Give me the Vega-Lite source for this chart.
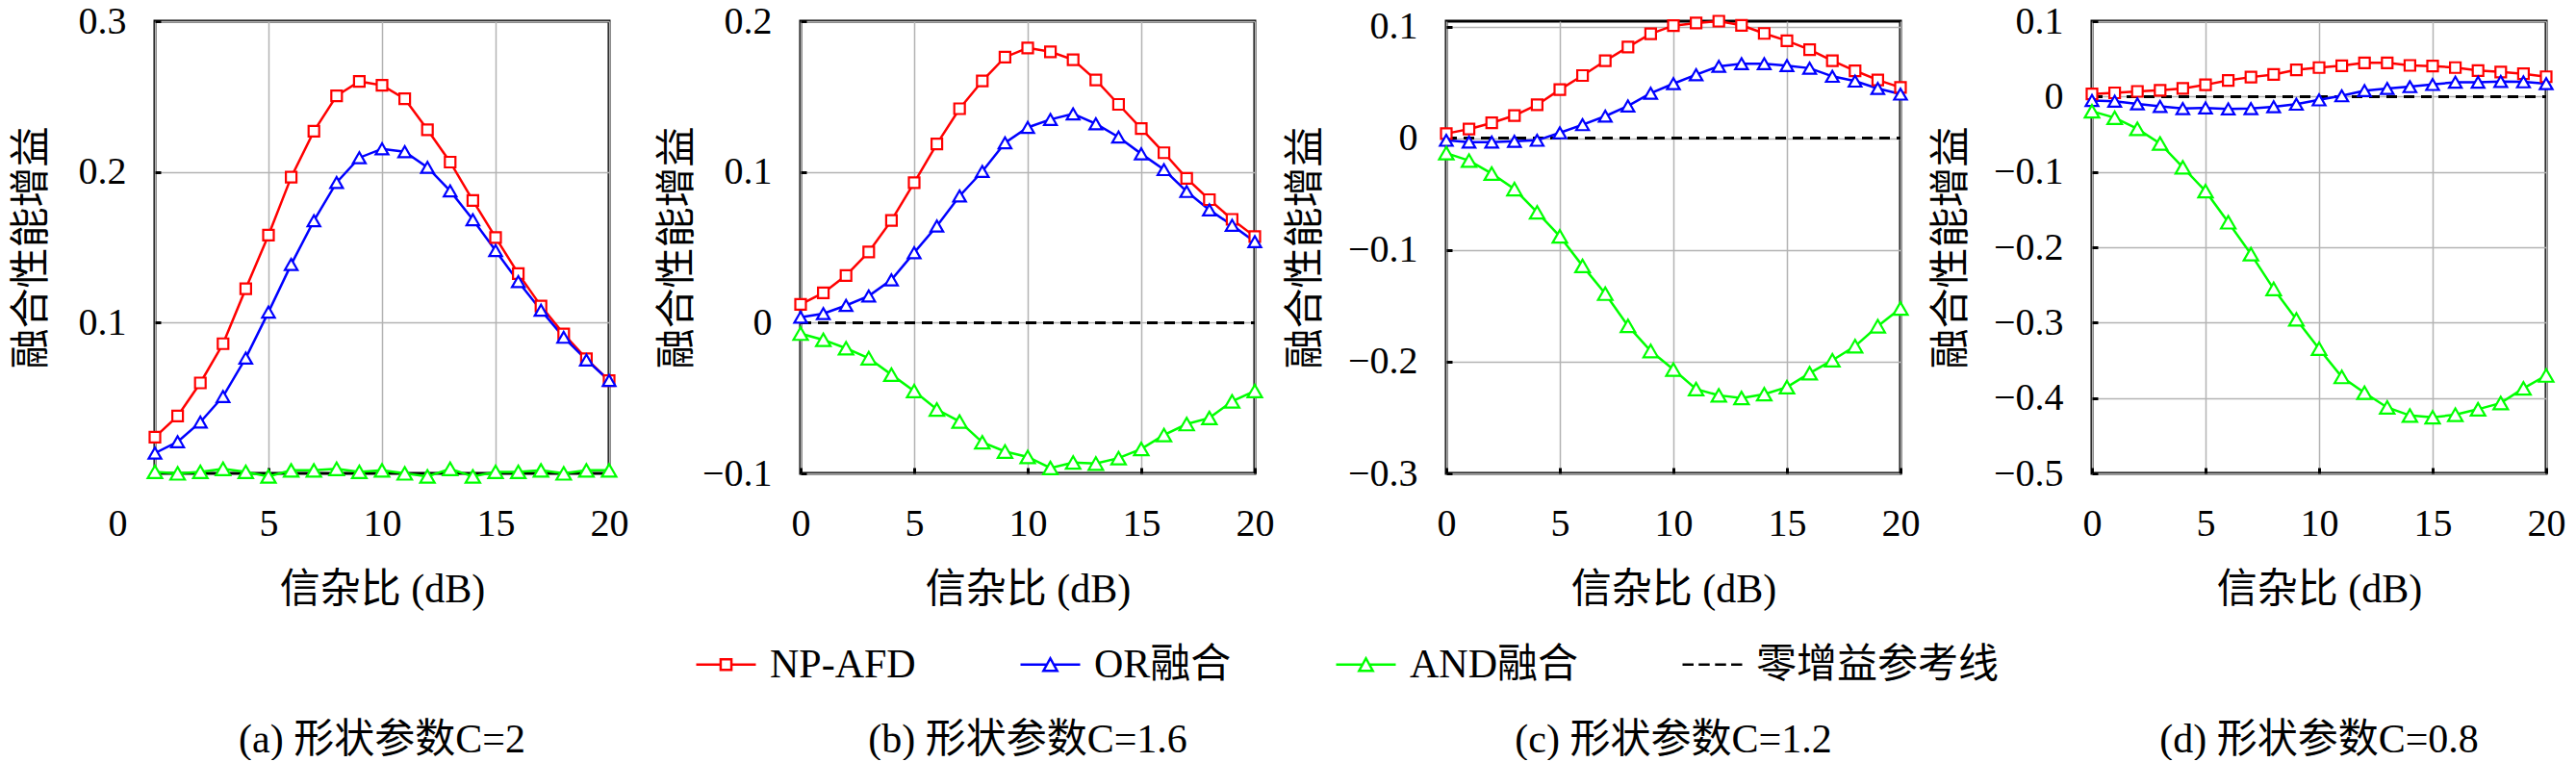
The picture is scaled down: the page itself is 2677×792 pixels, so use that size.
{
  "$schema": "https://vega.github.io/schema/vega-lite/v6.json",
  "description": "Fusion performance gain vs SNR for four shape parameters",
  "padding": {"top": 0, "left": 9, "right": 0, "bottom": 0},
  "datasets": {
    "gain": [
      {"p": "a", "x": 0, "NP-AFD": 0.024, "OR融合": 0.0134, "AND融合": 0.001},
      {"p": "a", "x": 1, "NP-AFD": 0.038, "OR融合": 0.021, "AND融合": 0.000},
      {"p": "a", "x": 2, "NP-AFD": 0.060, "OR融合": 0.034, "AND融合": 0.001},
      {"p": "a", "x": 3, "NP-AFD": 0.086, "OR融合": 0.051, "AND融合": 0.003},
      {"p": "a", "x": 4, "NP-AFD": 0.1225, "OR融合": 0.0765, "AND融合": 0.001},
      {"p": "a", "x": 5, "NP-AFD": 0.158, "OR融合": 0.107, "AND融合": -0.002},
      {"p": "a", "x": 6, "NP-AFD": 0.1965, "OR融合": 0.1386, "AND融合": 0.002},
      {"p": "a", "x": 7, "NP-AFD": 0.227, "OR融合": 0.1676, "AND融合": 0.002},
      {"p": "a", "x": 8, "NP-AFD": 0.2505, "OR融合": 0.193, "AND融合": 0.003},
      {"p": "a", "x": 9, "NP-AFD": 0.260, "OR融合": 0.2094, "AND融合": 0.001},
      {"p": "a", "x": 10, "NP-AFD": 0.2575, "OR融合": 0.2153, "AND融合": 0.002},
      {"p": "a", "x": 11, "NP-AFD": 0.2485, "OR融合": 0.2134, "AND融合": 0.000},
      {"p": "a", "x": 12, "NP-AFD": 0.228, "OR融合": 0.203, "AND融合": -0.002},
      {"p": "a", "x": 13, "NP-AFD": 0.2065, "OR融合": 0.1874, "AND融合": 0.003},
      {"p": "a", "x": 14, "NP-AFD": 0.181, "OR融合": 0.1683, "AND融合": -0.002},
      {"p": "a", "x": 15, "NP-AFD": 0.1565, "OR融合": 0.1478, "AND融合": 0.001},
      {"p": "a", "x": 16, "NP-AFD": 0.1325, "OR融合": 0.1272, "AND融合": 0.001},
      {"p": "a", "x": 17, "NP-AFD": 0.111, "OR融合": 0.1082, "AND融合": 0.002},
      {"p": "a", "x": 18, "NP-AFD": 0.0925, "OR融合": 0.0903, "AND融合": 0.000},
      {"p": "a", "x": 19, "NP-AFD": 0.076, "OR融合": 0.0752, "AND融合": 0.002},
      {"p": "a", "x": 20, "NP-AFD": 0.0615, "OR融合": 0.0616, "AND融合": 0.002},

      {"p": "b", "x": 0, "NP-AFD": 0.0121, "OR融合": 0.0036, "AND融合": -0.0073},
      {"p": "b", "x": 1, "NP-AFD": 0.0197, "OR融合": 0.006, "AND融合": -0.0114},
      {"p": "b", "x": 2, "NP-AFD": 0.0313, "OR融合": 0.0114, "AND融合": -0.017},
      {"p": "b", "x": 3, "NP-AFD": 0.0469, "OR融合": 0.0177, "AND融合": -0.0236},
      {"p": "b", "x": 4, "NP-AFD": 0.0678, "OR融合": 0.0284, "AND融合": -0.0345},
      {"p": "b", "x": 5, "NP-AFD": 0.0928, "OR融合": 0.0464, "AND融合": -0.0454},
      {"p": "b", "x": 6, "NP-AFD": 0.1185, "OR融合": 0.0641, "AND融合": -0.0576},
      {"p": "b", "x": 7, "NP-AFD": 0.1419, "OR融合": 0.084, "AND融合": -0.0656},
      {"p": "b", "x": 8, "NP-AFD": 0.1603, "OR融合": 0.1003, "AND融合": -0.0794},
      {"p": "b", "x": 9, "NP-AFD": 0.1761, "OR融合": 0.1193, "AND融合": -0.0855},
      {"p": "b", "x": 10, "NP-AFD": 0.1822, "OR融合": 0.1295, "AND融合": -0.0891},
      {"p": "b", "x": 11, "NP-AFD": 0.1797, "OR融合": 0.1348, "AND融合": -0.0964},
      {"p": "b", "x": 12, "NP-AFD": 0.1744, "OR融合": 0.1385, "AND融合": -0.0928},
      {"p": "b", "x": 13, "NP-AFD": 0.161, "OR融合": 0.1319, "AND融合": -0.0935},
      {"p": "b", "x": 14, "NP-AFD": 0.1448, "OR融合": 0.1231, "AND融合": -0.0899},
      {"p": "b", "x": 15, "NP-AFD": 0.1287, "OR融合": 0.112, "AND融合": -0.0838},
      {"p": "b", "x": 16, "NP-AFD": 0.1127, "OR融合": 0.1015, "AND融合": -0.0746},
      {"p": "b", "x": 17, "NP-AFD": 0.0957, "OR融合": 0.087, "AND融合": -0.0673},
      {"p": "b", "x": 18, "NP-AFD": 0.0816, "OR融合": 0.0748, "AND融合": -0.0632},
      {"p": "b", "x": 19, "NP-AFD": 0.0685, "OR融合": 0.0646, "AND融合": -0.0522},
      {"p": "b", "x": 20, "NP-AFD": 0.0571, "OR融合": 0.0537, "AND融合": -0.0454},

      {"p": "c", "x": 0, "NP-AFD": 0.0043, "OR融合": -0.0017, "AND融合": -0.0132},
      {"p": "c", "x": 1, "NP-AFD": 0.0083, "OR融合": -0.0033, "AND融合": -0.0199},
      {"p": "c", "x": 2, "NP-AFD": 0.0139, "OR融合": -0.0033, "AND融合": -0.0315},
      {"p": "c", "x": 3, "NP-AFD": 0.0205, "OR融合": -0.0026, "AND融合": -0.0454},
      {"p": "c", "x": 4, "NP-AFD": 0.0301, "OR融合": -0.0017, "AND融合": -0.0662},
      {"p": "c", "x": 5, "NP-AFD": 0.0437, "OR融合": 0.005, "AND融合": -0.0877},
      {"p": "c", "x": 6, "NP-AFD": 0.0563, "OR融合": 0.0123, "AND融合": -0.1142},
      {"p": "c", "x": 7, "NP-AFD": 0.0695, "OR融合": 0.0199, "AND融合": -0.1391},
      {"p": "c", "x": 8, "NP-AFD": 0.0818, "OR融合": 0.0291, "AND融合": -0.1679},
      {"p": "c", "x": 9, "NP-AFD": 0.0937, "OR融合": 0.0404, "AND融合": -0.1904},
      {"p": "c", "x": 10, "NP-AFD": 0.101, "OR融合": 0.049, "AND融合": -0.207},
      {"p": "c", "x": 11, "NP-AFD": 0.1033, "OR融合": 0.057, "AND融合": -0.2245},
      {"p": "c", "x": 12, "NP-AFD": 0.105, "OR融合": 0.0646, "AND融合": -0.2301},
      {"p": "c", "x": 13, "NP-AFD": 0.1013, "OR融合": 0.0669, "AND融合": -0.2325},
      {"p": "c", "x": 14, "NP-AFD": 0.094, "OR融合": 0.0669, "AND融合": -0.2291},
      {"p": "c", "x": 15, "NP-AFD": 0.0874, "OR融合": 0.0652, "AND融合": -0.2228},
      {"p": "c", "x": 16, "NP-AFD": 0.0795, "OR融合": 0.0629, "AND融合": -0.2103},
      {"p": "c", "x": 17, "NP-AFD": 0.0695, "OR融合": 0.0556, "AND融合": -0.1987},
      {"p": "c", "x": 18, "NP-AFD": 0.0606, "OR融合": 0.0513, "AND融合": -0.1861},
      {"p": "c", "x": 19, "NP-AFD": 0.0523, "OR融合": 0.0447, "AND融合": -0.1682},
      {"p": "c", "x": 20, "NP-AFD": 0.0457, "OR融合": 0.0397, "AND融合": -0.1523},

      {"p": "d", "x": 0, "NP-AFD": 0.0034, "OR融合": -0.0053, "AND融合": -0.0195},
      {"p": "d", "x": 1, "NP-AFD": 0.0049, "OR融合": -0.0063, "AND融合": -0.0282},
      {"p": "d", "x": 2, "NP-AFD": 0.0068, "OR融合": -0.0097, "AND融合": -0.0428},
      {"p": "d", "x": 3, "NP-AFD": 0.0083, "OR融合": -0.0131, "AND融合": -0.0623},
      {"p": "d", "x": 4, "NP-AFD": 0.0107, "OR融合": -0.016, "AND融合": -0.0939},
      {"p": "d", "x": 5, "NP-AFD": 0.0156, "OR融合": -0.0151, "AND融合": -0.1255},
      {"p": "d", "x": 6, "NP-AFD": 0.0214, "OR融合": -0.0165, "AND融合": -0.1668},
      {"p": "d", "x": 7, "NP-AFD": 0.0258, "OR融合": -0.016, "AND融合": -0.2091},
      {"p": "d", "x": 8, "NP-AFD": 0.0292, "OR融合": -0.0136, "AND融合": -0.2553},
      {"p": "d", "x": 9, "NP-AFD": 0.0355, "OR融合": -0.0102, "AND融合": -0.2957},
      {"p": "d", "x": 10, "NP-AFD": 0.0384, "OR融合": -0.0044, "AND融合": -0.3346},
      {"p": "d", "x": 11, "NP-AFD": 0.0409, "OR融合": 0.001, "AND融合": -0.372},
      {"p": "d", "x": 12, "NP-AFD": 0.0447, "OR融合": 0.0078, "AND融合": -0.393},
      {"p": "d", "x": 13, "NP-AFD": 0.0447, "OR融合": 0.0107, "AND融合": -0.4125},
      {"p": "d", "x": 14, "NP-AFD": 0.0413, "OR融合": 0.0131, "AND融合": -0.4232},
      {"p": "d", "x": 15, "NP-AFD": 0.0404, "OR融合": 0.016, "AND融合": -0.4256},
      {"p": "d", "x": 16, "NP-AFD": 0.0384, "OR融合": 0.019, "AND融合": -0.4222},
      {"p": "d", "x": 17, "NP-AFD": 0.0345, "OR融合": 0.019, "AND融合": -0.4149},
      {"p": "d", "x": 18, "NP-AFD": 0.0326, "OR融合": 0.0199, "AND融合": -0.4066},
      {"p": "d", "x": 19, "NP-AFD": 0.0302, "OR融合": 0.0195, "AND融合": -0.3872},
      {"p": "d", "x": 20, "NP-AFD": 0.0263, "OR融合": 0.017, "AND融合": -0.3701}
    ],
    "keys": [
      {"s": "NP-AFD"},
      {"s": "OR融合"},
      {"s": "AND融合"},
      {"s": "零增益参考线"}
    ]
  },
  "columns": 4,
  "spacing": {"row": 257, "column": 199},
  "bounds": "flush",
  "resolve": {
    "scale": {"x": "independent", "y": "independent", "color": "independent", "shape": "independent", "stroke": "independent", "size": "independent"},
    "legend": {"color": "independent", "shape": "independent", "stroke": "independent", "size": "independent"}
  },
  "concat": [
    {
      "width": 472,
      "height": 470,
      "view": {"stroke": "black", "strokeWidth": 3},
      "data": {"name": "gain"},
      "transform": [
        {"filter": "datum.p === 'a'"},
        {"fold": ["NP-AFD", "OR融合", "AND融合"], "as": ["s", "v"]}
      ],
      "encoding": {
        "x": {
          "field": "x", "type": "quantitative",
          "scale": {"domain": [0, 20], "nice": false},
          "axis": {
            "values": [0, 5, 10, 15, 20], "format": "d", "title": "信杂比 (dB)", "titleY": 100,
            "labelOffset": {"condition": {"test": "datum.value === 0", "value": -39}, "value": 0}
          }
        },
        "y": {
          "field": "v", "type": "quantitative",
          "scale": {"domain": [0, 0.3], "nice": false, "zero": false},
          "axis": {"values": [0.1, 0.2, 0.3], "format": ".1~f", "title": "融合性能增益", "titleX": -107}
        },
        "color": {
          "field": "s", "type": "nominal", "legend": null,
          "scale": {"domain": ["NP-AFD", "OR融合", "AND融合"], "range": ["#ff0000", "#0000ff", "#00ff00"]}
        }
      },
      "layer": [
        {
          "mark": {"type": "rule", "strokeWidth": 2, "strokeDash": [11, 7]},
          "encoding": {"x": {"datum": 0}, "x2": {"datum": 20}, "y": {"datum": 0}, "color": {"value": "black"}}
        },
        {"mark": {"type": "line", "strokeWidth": 2.5}},
        {
          "mark": {"type": "point", "filled": false, "fill": "white", "strokeWidth": 2.2, "opacity": 1},
          "encoding": {
            "shape": {
              "field": "s", "type": "nominal", "legend": null,
              "scale": {"domain": ["NP-AFD", "OR融合", "AND融合"], "range": ["square", "triangle-up", "triangle-up"]}
            },
            "size": {
              "field": "s", "type": "nominal", "legend": null,
              "scale": {"domain": ["NP-AFD", "OR融合", "AND融合"], "range": [121, 225, 225]}
            }
          }
        }
      ]
    },
    {
      "width": 472,
      "height": 470,
      "view": {"stroke": "black", "strokeWidth": 3},
      "data": {"name": "gain"},
      "transform": [
        {"filter": "datum.p === 'b'"},
        {"fold": ["NP-AFD", "OR融合", "AND融合"], "as": ["s", "v"]}
      ],
      "encoding": {
        "x": {
          "field": "x", "type": "quantitative",
          "scale": {"domain": [0, 20], "nice": false},
          "axis": {"values": [0, 5, 10, 15, 20], "format": "d", "title": "信杂比 (dB)", "titleY": 100}
        },
        "y": {
          "field": "v", "type": "quantitative",
          "scale": {"domain": [-0.1, 0.2], "nice": false, "zero": false},
          "axis": {"values": [-0.1, 0, 0.1, 0.2], "format": ".1~f", "title": "融合性能增益", "titleX": -107}
        },
        "color": {
          "field": "s", "type": "nominal", "legend": null,
          "scale": {"domain": ["NP-AFD", "OR融合", "AND融合"], "range": ["#ff0000", "#0000ff", "#00ff00"]}
        }
      },
      "layer": [
        {
          "mark": {"type": "rule", "strokeWidth": 2, "strokeDash": [11, 7]},
          "encoding": {"x": {"datum": 0}, "x2": {"datum": 20}, "y": {"datum": 0}, "color": {"value": "black"}}
        },
        {"mark": {"type": "line", "strokeWidth": 2.5}},
        {
          "mark": {"type": "point", "filled": false, "fill": "white", "strokeWidth": 2.2, "opacity": 1},
          "encoding": {
            "shape": {
              "field": "s", "type": "nominal", "legend": null,
              "scale": {"domain": ["NP-AFD", "OR融合", "AND融合"], "range": ["square", "triangle-up", "triangle-up"]}
            },
            "size": {
              "field": "s", "type": "nominal", "legend": null,
              "scale": {"domain": ["NP-AFD", "OR融合", "AND融合"], "range": [121, 225, 225]}
            }
          }
        }
      ]
    },
    {
      "width": 472,
      "height": 470,
      "view": {"stroke": "black", "strokeWidth": 3},
      "data": {"name": "gain"},
      "transform": [
        {"filter": "datum.p === 'c'"},
        {"fold": ["NP-AFD", "OR融合", "AND融合"], "as": ["s", "v"]}
      ],
      "encoding": {
        "x": {
          "field": "x", "type": "quantitative",
          "scale": {"domain": [0, 20], "nice": false},
          "axis": {"values": [0, 5, 10, 15, 20], "format": "d", "title": "信杂比 (dB)", "titleY": 100}
        },
        "y": {
          "field": "v", "type": "quantitative",
          "scale": {"domain": [-0.3, 0.105], "nice": false, "zero": false},
          "axis": {"values": [-0.3, -0.2, -0.1, 0, 0.1], "format": ".1~f", "title": "融合性能增益", "titleX": -125}
        },
        "color": {
          "field": "s", "type": "nominal", "legend": null,
          "scale": {"domain": ["NP-AFD", "OR融合", "AND融合"], "range": ["#ff0000", "#0000ff", "#00ff00"]}
        }
      },
      "layer": [
        {
          "mark": {"type": "rule", "strokeWidth": 2, "strokeDash": [11, 7]},
          "encoding": {"x": {"datum": 0}, "x2": {"datum": 20}, "y": {"datum": 0}, "color": {"value": "black"}}
        },
        {"mark": {"type": "line", "strokeWidth": 2.5}},
        {
          "mark": {"type": "point", "filled": false, "fill": "white", "strokeWidth": 2.2, "opacity": 1},
          "encoding": {
            "shape": {
              "field": "s", "type": "nominal", "legend": null,
              "scale": {"domain": ["NP-AFD", "OR融合", "AND融合"], "range": ["square", "triangle-up", "triangle-up"]}
            },
            "size": {
              "field": "s", "type": "nominal", "legend": null,
              "scale": {"domain": ["NP-AFD", "OR融合", "AND融合"], "range": [121, 225, 225]}
            }
          }
        }
      ]
    },
    {
      "width": 472,
      "height": 470,
      "view": {"stroke": "black", "strokeWidth": 3},
      "data": {"name": "gain"},
      "transform": [
        {"filter": "datum.p === 'd'"},
        {"fold": ["NP-AFD", "OR融合", "AND融合"], "as": ["s", "v"]}
      ],
      "encoding": {
        "x": {
          "field": "x", "type": "quantitative",
          "scale": {"domain": [0, 20], "nice": false},
          "axis": {"values": [0, 5, 10, 15, 20], "format": "d", "title": "信杂比 (dB)", "titleY": 100}
        },
        "y": {
          "field": "v", "type": "quantitative",
          "scale": {"domain": [-0.5, 0.1], "nice": false, "zero": false},
          "axis": {"values": [-0.5, -0.4, -0.3, -0.2, -0.1, 0, 0.1], "format": ".1~f", "title": "融合性能增益", "titleX": -125}
        },
        "color": {
          "field": "s", "type": "nominal", "legend": null,
          "scale": {"domain": ["NP-AFD", "OR融合", "AND融合"], "range": ["#ff0000", "#0000ff", "#00ff00"]}
        }
      },
      "layer": [
        {
          "mark": {"type": "rule", "strokeWidth": 2, "strokeDash": [11, 7]},
          "encoding": {"x": {"datum": 0}, "x2": {"datum": 20}, "y": {"datum": 0}, "color": {"value": "black"}}
        },
        {"mark": {"type": "line", "strokeWidth": 2.5}},
        {
          "mark": {"type": "point", "filled": false, "fill": "white", "strokeWidth": 2.2, "opacity": 1},
          "encoding": {
            "shape": {
              "field": "s", "type": "nominal", "legend": null,
              "scale": {"domain": ["NP-AFD", "OR融合", "AND融合"], "range": ["square", "triangle-up", "triangle-up"]}
            },
            "size": {
              "field": "s", "type": "nominal", "legend": null,
              "scale": {"domain": ["NP-AFD", "OR融合", "AND融合"], "range": [121, 225, 225]}
            }
          }
        }
      ]
    },
    {
      "width": 472,
      "height": 40,
      "layer": [
        {
          "data": {"values": [{"c": "(a) 形状参数C=2"}]},
          "mark": {"type": "text", "fontSize": 42, "color": "black"},
          "encoding": {"text": {"field": "c", "type": "nominal"}}
        },
        {
          "data": {"name": "keys"},
          "mark": {"type": "point", "opacity": 0},
          "encoding": {
            "shape": {
              "field": "s", "type": "nominal",
              "scale": {
                "domain": ["NP-AFD", "OR融合", "AND融合", "零增益参考线"],
                "range": [
                  "M-1,0H-0.18M0.18,0H1M-0.18,-0.18H0.18V0.18H-0.18Z",
                  "M-1,0H-0.115M0.115,0H1M0,-0.21L0.23,0.21H-0.23Z",
                  "M-1,0H-0.115M0.115,0H1M0,-0.21L0.23,0.21H-0.23Z",
                  "M-1,0H-0.63M-0.46,0H-0.09M0.09,0H0.46M0.63,0H1"
                ]
              },
              "legend": {
                "title": null, "orient": "none", "legendX": 561, "legendY": -91,
                "direction": "horizontal", "columns": 4, "columnPadding": 103, "padding": 0,
                "symbolSize": 3844, "symbolStrokeWidth": 2.5, "symbolOpacity": 1, "symbolFillColor": "white",
                "labelFontSize": 42, "labelColor": "black", "labelOffset": 13, "labelLimit": 500,
                "encode": {"symbols": {"update": {"opacity": {"value": 1}, "fill": {"value": "white"}, "strokeWidth": {"value": 2.5}}}}
              }
            },
            "stroke": {
              "field": "s", "type": "nominal",
              "scale": {
                "domain": ["NP-AFD", "OR融合", "AND融合", "零增益参考线"],
                "range": ["#ff0000", "#0000ff", "#00ff00", "#000000"]
              },
              "legend": {
                "title": null, "orient": "none", "legendX": 561, "legendY": -91,
                "direction": "horizontal", "columns": 4, "columnPadding": 103, "padding": 0,
                "symbolSize": 3844, "symbolStrokeWidth": 2.5, "symbolOpacity": 1, "symbolFillColor": "white",
                "labelFontSize": 42, "labelColor": "black", "labelOffset": 13, "labelLimit": 500,
                "encode": {"symbols": {"update": {"opacity": {"value": 1}, "fill": {"value": "white"}, "strokeWidth": {"value": 2.5}}}}
              }
            }
          }
        }
      ]
    },
    {
      "width": 472,
      "height": 40,
      "data": {"values": [{"c": "(b) 形状参数C=1.6"}]},
      "mark": {"type": "text", "fontSize": 42, "color": "black"},
      "encoding": {"text": {"field": "c", "type": "nominal"}}
    },
    {
      "width": 472,
      "height": 40,
      "data": {"values": [{"c": "(c) 形状参数C=1.2"}]},
      "mark": {"type": "text", "fontSize": 42, "color": "black"},
      "encoding": {"text": {"field": "c", "type": "nominal"}}
    },
    {
      "width": 472,
      "height": 40,
      "data": {"values": [{"c": "(d) 形状参数C=0.8"}]},
      "mark": {"type": "text", "fontSize": 42, "color": "black"},
      "encoding": {"text": {"field": "c", "type": "nominal"}}
    }
  ],
  "config": {
    "font": "'Liberation Serif', 'Noto Sans CJK SC', serif",
    "view": {"stroke": null},
    "text": {"font": "'Liberation Serif', 'Noto Sans CJK SC', serif"},
    "legend": {"labelFont": "'Liberation Serif', 'Noto Sans CJK SC', serif"},
    "axis": {
      "grid": true,
      "gridColor": "#b3b3b3",
      "gridWidth": 1.5,
      "domain": false,
      "ticks": true,
      "tickSize": -6,
      "tickWidth": 3,
      "tickColor": "black",
      "labelFlush": false,
      "labelOverlap": false,
      "labelFont": "'Liberation Serif', 'Noto Sans CJK SC', serif",
      "labelFontSize": 40,
      "labelColor": "black",
      "titleFont": "'Liberation Serif', 'Noto Sans CJK SC', serif",
      "titleFontSize": 42,
      "titleFontWeight": "normal",
      "titleColor": "black"
    },
    "axisX": {"labelPadding": 38},
    "axisY": {"labelPadding": 36}
  }
}
